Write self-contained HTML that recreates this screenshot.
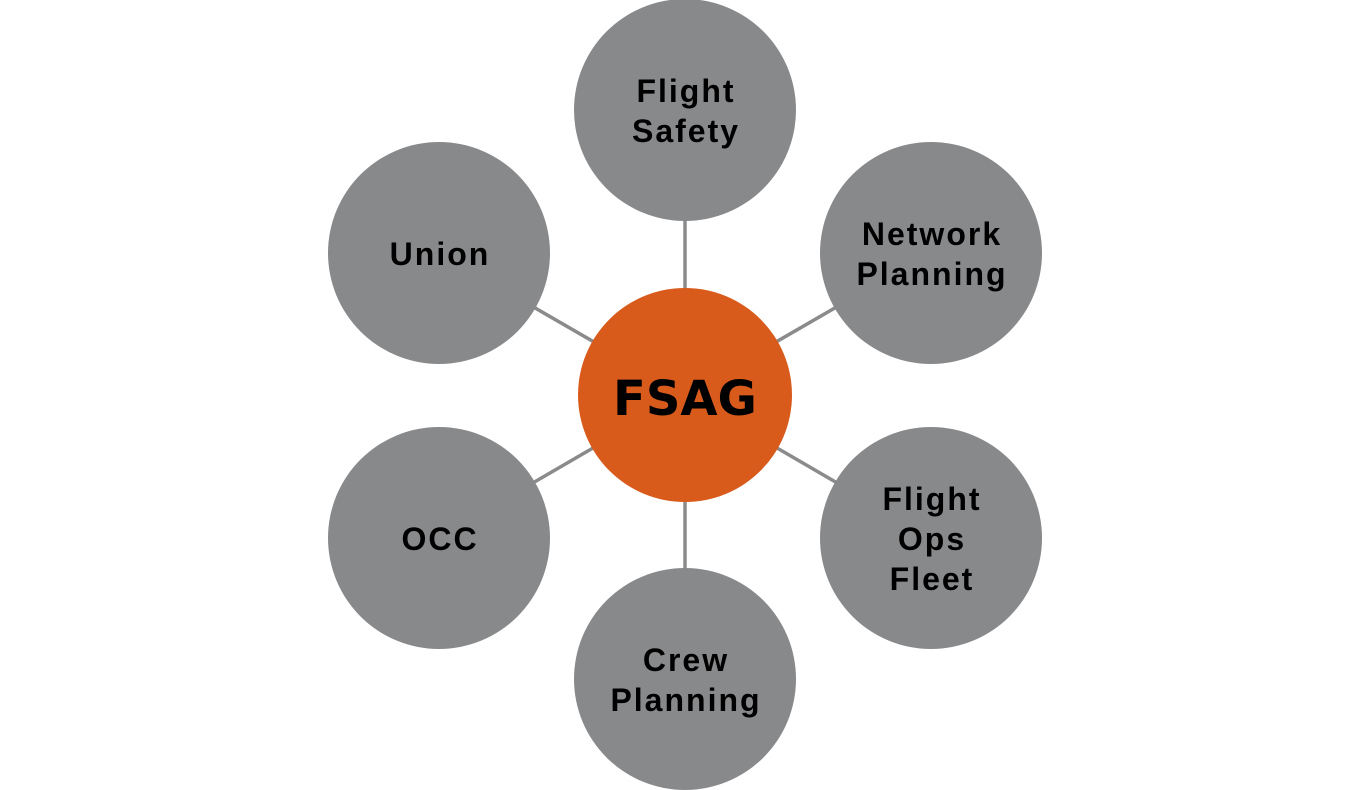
<!DOCTYPE html>
<html>
<head>
<meta charset="utf-8">
<style>
  html, body { margin:0; padding:0; background:#ffffff; }
  body { width:1370px; height:790px; position:relative; overflow:hidden; }
  svg.lines { position:absolute; left:0; top:0; }
  .c {
    position:absolute; border-radius:50%;
    display:flex; align-items:center; justify-content:center; text-align:center;
    font-family:"Liberation Sans", Arial, sans-serif; font-weight:bold;
    color:#000; font-size:32px; line-height:40px; letter-spacing:2px;
  }
  .g { width:222px; height:222px; background:#88898b; }
  .c span { display:block; margin-right:-2px; padding-top:2px; }
  .center {
    width:214px; height:214px; background:#d95b1c;
    font-family:"DejaVu Sans", Verdana, sans-serif; font-size:48px; letter-spacing:0;
  }
  .center span { padding-top:8px; margin-right:0; }
</style>
</head>
<body>
<svg class="lines" width="1370" height="790">
  <g stroke="#8b8b8b" stroke-width="3.5">
    <line x1="685" y1="394.5" x2="685" y2="110"/>
    <line x1="685" y1="394.5" x2="931" y2="252.5"/>
    <line x1="685" y1="394.5" x2="931" y2="537.5"/>
    <line x1="685" y1="394.5" x2="685" y2="679"/>
    <line x1="685" y1="394.5" x2="439" y2="537.5"/>
    <line x1="685" y1="394.5" x2="439" y2="252.5"/>
  </g>
</svg>

<div class="c g" style="left:574px; top:-1px;"><span>Flight<br>Safety</span></div>
<div class="c g" style="left:820px; top:141.5px;"><span>Network<br>Planning</span></div>
<div class="c g" style="left:820px; top:426.5px;"><span>Flight<br>Ops<br>Fleet</span></div>
<div class="c g" style="left:574px; top:568px;"><span>Crew<br>Planning</span></div>
<div class="c g" style="left:328px; top:426.5px;"><span>OCC</span></div>
<div class="c g" style="left:328px; top:141.5px;"><span>Union</span></div>

<div class="c center" style="left:578px; top:287.5px;"><span>FSAG</span></div>
</body>
</html>
